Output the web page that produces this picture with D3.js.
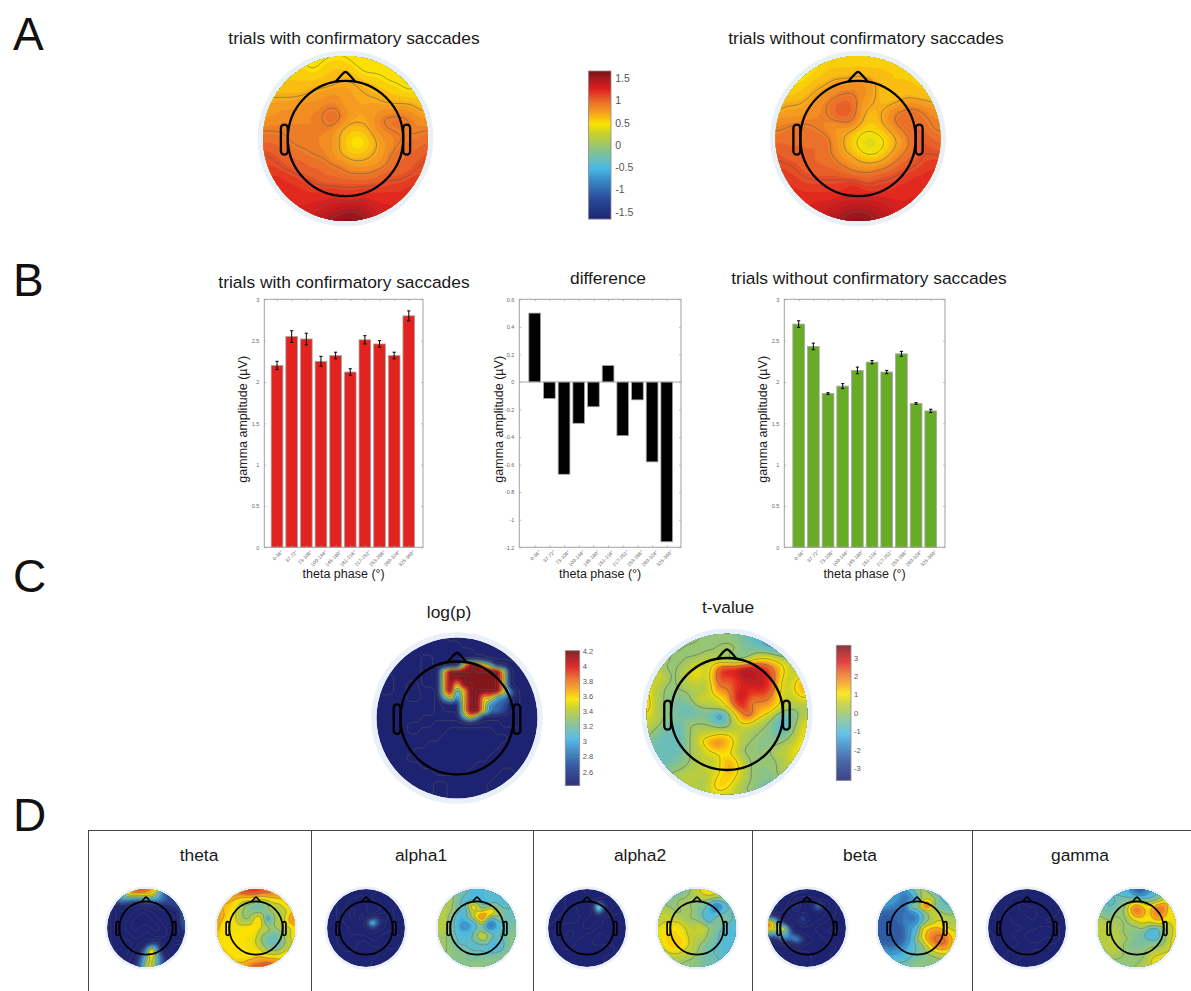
<!DOCTYPE html>
<html>
<head>
<meta charset="utf-8">
<script src="https://cdn.jsdelivr.net/npm/d3@7"></script>
<style>
  body { margin: 0; background: #fff; }
  text { font-family: "Liberation Sans", Arial, sans-serif; }
</style>
</head>
<body>
<svg id="fig" width="1191" height="991"></svg>
<script>
// bar chart values
const phases = ["0-36°", "37-72°", "73-108°", "109-144°", "145-180°", "181-216°", "217-252°", "253-288°", "289-324°", "325-360°"];
const withVals = [2.2, 2.55, 2.52, 2.25, 2.32, 2.12, 2.51, 2.46, 2.32, 2.8];
const withErr = [0.05, 0.07, 0.07, 0.06, 0.04, 0.04, 0.05, 0.04, 0.04, 0.06];
const diffVals = [0.5, -0.12, -0.67, -0.3, -0.18, 0.12, -0.39, -0.13, -0.58, -1.16];
const withoutVals = [2.7, 2.43, 1.86, 1.95, 2.14, 2.24, 2.12, 2.34, 1.74, 1.65];
const withoutErr = [0.04, 0.04, 0.01, 0.03, 0.04, 0.02, 0.02, 0.03, 0.01, 0.02];
const ampTicks = [0, 0.5, 1, 1.5, 2, 2.5, 3];
const diffTicks = [-1.2, -1, -0.8, -0.6, -0.4, -0.2, 0, 0.2, 0.4, 0.6];

// colorbars
const rangeA = [-1.66, 1.66];
const rangeP = [2.42, 4.2];
const rangeT = [-3.65, 3.67];
const ticksA = [-1.5, -1, -0.5, 0, 0.5, 1, 1.5];
const ticksP = [2.6, 2.8, 3, 3.2, 3.4, 3.6, 3.8, 4, 4.2];
const ticksT = [-3, -2, -1, 0, 1, 2, 3];
const cmapPos = [0, 0.136, 0.27, 0.345, 0.45, 0.5, 0.58, 0.645, 0.72, 0.8, 0.88, 0.95, 1];
const cmapCol = ["#1d2371", "#2b4a9a", "#3a8cc8", "#4ab8e6", "#7fc09a", "#9cc66a", "#c8d02a", "#fbe400", "#f6a21e", "#e9692a", "#e0201f", "#a81a20", "#7a1518"];

// topographies, one letter per sample:
// a..z runs along the colorbar, digits 0..9 are below its lower end (navy, contours only)
const gridWith = ["qqqqqqqqqqqqqqqqqqqqq", "rqrqrqqqrrrqqqqqqqqqq", "rrrrrrqrrrrrqqqqqqqqq", "rrrrrrrrrsssrrrqqqqqq", "rrrrrrsssssssrrrrqqqq", "ssssssssttsssssrrrrrr", "ssssstttttsssssssssrr", "ssttttttuutssstttttss", "ttttttttuusssstuuuttt", "tttttttttsrrrstttuttt", "uuuttttttsrqqrsttttuu", "uuuutttttsrqqrsstuuuu", "vvuuuutttsrrrsstuuuuv", "vvvuuuuutttsssstuuuvv", "vvvvvuuuuuttttuuuuvvv", "wwwvvvvuuuuuuuuvvvvvv", "wwwwwvvvvvvvvvvvvvwww", "wwwwwwwwwwvvwwwwwwwww", "xxwwwwwwwxxxxwwwwwwww", "xxxwwwwxxxyyyxwwwwwww", "xxxxwwxyyzzzyyxxwwwww"];
const gridWithout = ["qqqqqqrqrqrqrqrqqqqqq", "qqqqqqrrrrrrrrrrrqqqq", "qqqqqrrrrrrrrrrrrrqqq", "qqqqrrrssstssrrrrrrrq", "qqrrrsstttttsrrrrrrrr", "rrrrsstttutssrrrsrrrr", "rssssttuvvtssrsstttss", "sssstttuvutrrstuuuttt", "tttttttttutrrstuuuutt", "ttuuuttsssrqrrstuuutt", "uuuuuuutsrqppqrstuvuu", "uuuuuuutsrqppqrstuvuu", "vuuuuuutssrqqrstuuvvv", "vvvuuuuuttsssstuuvvvv", "vvvvuuuuuttttuuvvvvww", "wvvvvvvvvvvuvvvvvwwww", "wwwvvvvvvwwvvvvwwwwww", "wwwwwwwwwwwwwwwwwwwww", "wwwwwwwwxxxxxxwwwwwww", "wwwwwwxxxyyyxxxwwwwww", "wwwwwxxyyzzzyyxxwwwww"];
const gridLogP = ["5555555555533333333333333", "5555555555555333333333333", "5555555555555553333333333", "5555555885555555533333333", "5555555885555qzzqk8855533", "5555555888qzzzzzzzzq85555", "5335555888rzzzzzzzzr85555", "5335533888rzrzzzzzzq85555", "5335533558rziqzzzzzqh8555", "5555533558irgqzzrrigd8555", "5555555558aaaqzzqhfea8555", "5555555558aaaqzzqgfda8555", "5555555888888iqi888888555", "5555588885555555555888555", "5555588555533333335555555", "5555555555333333333355555", "5555555533333333333555555", "5555553333333333335555555", "5555533333333333355555555", "5555555333333335555555555", "5555555553333355555335555", "5555555555555555553335555", "5555555553355555533335555", "5555555553355555533333555", "5555555553355555533333355"];
const gridTval = ["nnnnnnnnnmmmmmlkjiiijjkkk", "nnnnnnnnmmmmmmllkjiiijjkk", "nnnnnnmmmmmnnnmllkjiijjkl", "nnnnmmmmmnnnnmmlmnnmlkkll", "oonnmmnnooonmllnqrrqponmm", "oonmmnnpporvwwxyxwvtrpoon", "oopnmnoqqoswwwxyxxwurpopq", "popnmnopoosvuvwxxxwuqoprs", "qpnmmnnoonrutvwwwxwuqoqss", "ronmmmmnnpqssvxwvvvtpoprr", "sonmllmnqooprvxvtutsqoopp", "sonmlkklmnopqtwvsssrponnn", "qonmllkklljhkpsvurqolklno", "ponmllmmmmkilorsqonljklop", "onmlkkmnnnnmmnoonnmljkmpq", "nmlkkkmnoopqqponnmmlklnpq", "mlkkkkmnqsttsqonmmlmmnoqq", "nlkkkkmnoqssrqnmmmmnnopqq", "mlkkklmnoppqqpnmmmmnooqqq", "mlkkllmnoooqsrpnmmmmnopqq", "mmllmmnnoooqsspnmmmmnopqq", "mmmmnnoooopqrrpnmmmmnooqq", "nnnnnooonnqrrqonmmllmnooo", "nnnnnnoonoqrqpnmmlllmnnoo", "nnnnnnnnooppponnmlllmnnnn"];

const thetaP = ["aaaatwwvtqjeaaa", "aaaqrrrqqlfdaaa", "aajhgggiiigecaa", "24aaa6688aabdea", "2468664466688ce", "2468642246866bf", "2486422224688bg", "2486424622468ae", "2466644664468aa", "2446666866668aa", "2444468aeg86644", "224468ahyh86442", "224468dkskd8642", "22468afnqke8644", "44468agoqkd8644"];
const thetaT = ["ttuuvvwwvvuttss", "sstttuuutttsssr", "rrsrqppoopqrrss", "srrqpmlkklonqrs", "trrqnmmllnnonqs", "tsqqnmmqqhmnost", "tqqqonnsqjmoost", "sqqqqrrqpomnooq", "rqqqqqqqnmllnos", "rqqqqqqpmkkkmor", "rqqqqqqpnlkkmoq", "srqqqqqqpmmmoqr", "ssrqqqqrrqqqrss", "tssrrrsstttsrss", "ttttssuvvwvuttt"];
const alpha1P = ["222244444466688", "224444666688866", "224466644866866", "224468864488646", "224688664468444", "224688466ca8644", "2246684arg86644", "22446686ca88644", "224466668664444", "224444446644224", "224444224442244", "222444222244444", "222222222444444", "224442224444444", "224444224444444"];
const alpha1T = ["nnnmmlkjjkkjjkk", "ooomlkijikjjjkk", "ooomkjjjjjjjjkl", "oonmkjtqjkmkjkl", "oonmkioootsmlkl", "oomkiknsxpkokkl", "oomkihikqfgkkll", "oomkhhikkfhjkll", "nnmkjjjnpnkklmm", "nnmljjkmpmjkkmm", "nnmlkkjjjkijkmm", "nnmmllkkkjjjlmm", "nnmmmmlllllmmnn", "nnmmmllmmmmmmnn", "nnmmmnnmmmmmmnn"];
const alpha2P = ["333335577777555", "333355557778866", "333355555788a86", "33335577asd8865", "333355775nc8665", "333555579755555", "335555799755555", "355777797555555", "557797755335555", "557795553333555", "555775553333355", "335555555555335", "333555555533355", "335535555533355", "335535555533355"];
const alpha2T = ["nnnmllnoqqqqonn", "nnmllmnopqqonml", "nmlmnnnmnmklmlk", "onmmnnmmlkgfjlk", "ooommnnlkjhikkk", "oooonnmmkiklmkk", "oppppnnnmjlmlkk", "pqqqqpooqnmljjj", "qqrrqpooomlkjjj", "pqrrrqoonmlkjjj", "oqrrrqonmlkkjjk", "ooqqqoonllkkjkk", "nnoooonmlkkkjkk", "nnnnnmmmlllkkkk", "nnnmmmmmllkkkkk"];
const betaP = ["222244446664444", "224446686668444", "224468a8a686844", "22446g88amb8644", "2246aa8a8a86644", "ffa466ea8a86644", "wqga24eaa664444", "unrte4666446644", "lmjkfc866646644", "a8eigkfa8664444", "24666aa68666644", "224444666866644", "222444446866444", "222444446866444", "222244446866444"];
const betaT = ["kkjiiikmnmkjiij", "kjiihfikonlkiik", "jiiigfgjnqolkkl", "hihgffpkuylkkkl", "gfffgfhjknpnlln", "feeffgfgkmooonn", "feeefhghknoqonn", "eeeeegijqrsrqoo", "eeeeegikqstutrp", "feeeeginqtuuusq", "fffffhjkmqtuusp", "iighiikkmnqrrqn", "kjiiijkklmmnonm", "lllkkklmmmmmmmm", "mmmlllmmmmmmmmm"];
const gammaP = ["333555555777555", "335555577775775", "335557777777557", "335577977775755", "335577799779755", "333557779775555", "355557777755555", "355553557799755", "335557799aa9755", "335355779977755", "335555577775555", "335557775555555", "335577555553555", "355775555335555", "355555555335555"];
const gammaT = ["mmlkjjhefgjklmn", "nmlkkjiggijlmon", "mljkllmnmllnqqo", "nlkkmmstrpsutqp", "nlkmmntutqtutpq", "nmlnmmqsrqstrqq", "oonnnmnoqpqrppq", "ooonnmmmnljkmoq", "oooonmmlliikmoq", "oooonnmllkjkmpq", "nooonmlllmmmnpq", "mnoonmmmmnnoopq", "knnnnmmmmnppqqq", "kmnmmmmmnoqqqqp", "klmmmmmnnoqqqpo"];

const bandNames = ["theta", "alpha1", "alpha2", "beta", "gamma"];
const bandP = [thetaP, alpha1P, alpha2P, betaP, gammaP];
const bandT = [thetaT, alpha1T, alpha2T, betaT, gammaT];

const svg = d3.select("#fig");
const cmap = d3.scaleLinear().domain(cmapPos).range(cmapCol).clamp(true);
const codes = "0123456789abcdefghijklmnopqrstuvwxyz";

// decode the letter rows to colorbar units
function decode(rows, range) {
  return rows.map(r => Array.from(r).map(c => range[0] + (codes.indexOf(c) - 10) / 25 * (range[1] - range[0])));
}

// bilinear upsample, the blur below takes care of the smoothness
function upsample(g, k) {
  const n = g.length;
  const m = (n - 1) * k + 1;
  const out = new Float64Array(m * m);
  for (let y = 0; y < m; y++) {
    const j = Math.min(n - 2, Math.floor(y / k)), v = y / k - j;
    for (let x = 0; x < m; x++) {
      const i = Math.min(n - 2, Math.floor(x / k)), u = x / k - i;
      out[y * m + x] = (1 - v) * ((1 - u) * g[j][i] + u * g[j][i + 1]) + v * ((1 - u) * g[j + 1][i] + u * g[j + 1][i + 1]);
    }
  }
  return { values: out, size: m };
}

// box blur, once per radius
function smooth(up, radii) {
  const m = up.size;
  let src = up.values;
  radii.forEach(r => {
    [0, 1].forEach(axis => {
      const dst = new Float64Array(m * m);
      for (let a = 0; a < m; a++) {
        for (let b = 0; b < m; b++) {
          let sum = 0;
          for (let o = -r; o <= r; o++) {
            const c = Math.max(0, Math.min(m - 1, b + o));
            sum += axis ? src[c * m + a] : src[a * m + c];
          }
          if (axis) dst[b * m + a] = sum / (2 * r + 1);
          else dst[a * m + b] = sum / (2 * r + 1);
        }
      }
      src = dst;
    });
  });
  return { values: src, size: m };
}

let clipCount = 0;
function topo(rows, range, cx, cy, disk, head, lineStart, lineStep, radii) {
  const id = "clip" + (clipCount++);
  const g = svg.append("g");
  g.append("clipPath").attr("id", id).append("circle").attr("cx", cx).attr("cy", cy).attr("r", disk);
  g.append("circle").attr("cx", cx).attr("cy", cy).attr("r", disk * 1.066).attr("fill", "#eaf0f8");

  const up = smooth(upsample(decode(rows, range), 4), radii);
  const sx = d3.scaleLinear().domain([0.5, up.size - 0.5]).range([cx - disk, cx + disk]);
  const sy = d3.scaleLinear().domain([0.5, up.size - 0.5]).range([cy - disk, cy + disk]);
  const path = d3.geoPath(d3.geoTransform({
    point(x, y) { this.stream.point(sx(x), sy(y)); }
  }));
  const toT = d3.scaleLinear().domain(range).range([0, 1]);

  const inner = g.append("g").attr("clip-path", `url(#${id})`);
  inner.append("circle").attr("cx", cx).attr("cy", cy).attr("r", disk).attr("fill", cmap(0));

  const bands = d3.range(0, 50).map(i => range[0] + i / 50 * (range[1] - range[0]));
  const fills = d3.contours().size([up.size, up.size]).thresholds(bands)(up.values);
  inner.selectAll("path.band").data(fills).enter().append("path")
    .attr("class", "band")
    .attr("d", path)
    .attr("fill", d => cmap(toT(d.value) + 0.01));

  const levels = d3.range(lineStart, range[1], lineStep);
  const lines = d3.contours().size([up.size, up.size]).thresholds(levels)(up.values);
  inner.selectAll("path.iso").data(lines).enter().append("path")
    .attr("class", "iso")
    .attr("d", path)
    .attr("fill", "none")
    .attr("stroke", "#55575a")
    .attr("stroke-opacity", 0.75)
    .attr("stroke-width", disk > 60 ? 0.7 : 0.5);

  // head outline
  const lw = head > 40 ? 2.3 : 1.7;
  const h = g.append("g").attr("fill", "none").attr("stroke", "#000").attr("stroke-width", lw)
    .attr("stroke-linejoin", "round");
  h.append("circle").attr("cx", cx).attr("cy", cy).attr("r", head);
  const nose = d3.line().x(d => cx + d[0] * head).y(d => cy + d[1] * head).curve(d3.curveCatmullRom.alpha(0.5));
  h.append("path").attr("d", nose([[-0.17, -0.985], [-0.04, -1.13], [0, -1.155], [0.04, -1.13], [0.17, -0.985]]));
  [-1, 1].forEach(side => {
    const ex = side < 0 ? cx - head * 1.12 : cx + head * 1.0;
    h.append("rect").attr("x", ex).attr("y", cy - head * 0.24)
      .attr("width", head * 0.12).attr("height", head * 0.52)
      .attr("rx", head * 0.06);
  });
}

function colorbar(x, y, w, hgt, range, ticks, fontSize) {
  const scale = d3.scaleLinear().domain(range).range([y + hgt, y]);
  const g = svg.append("g");
  g.selectAll("rect").data(d3.range(0, hgt)).enter().append("rect")
    .attr("x", x).attr("y", d => y + d).attr("width", w).attr("height", 1.2)
    .attr("fill", d => cmap(1 - d / hgt));
  g.append("rect").attr("x", x).attr("y", y).attr("width", w).attr("height", hgt)
    .attr("fill", "none").attr("stroke", "#8c8c8c").attr("stroke-width", 0.8);
  const ax = g.append("g").attr("transform", `translate(${x + w},0)`)
    .call(d3.axisRight(scale).tickValues(ticks).tickFormat(d => String(d)).tickSize(0).tickPadding(fontSize * 0.4));
  ax.select(".domain").remove();
  ax.selectAll("text").attr("fill", "#555").style("font-size", fontSize + "px")
    .style("font-family", '"Liberation Sans", Arial, sans-serif');
}

function barChart(x0, x1, xDomain, vals, errs, color, domain, ticks, yLabelX) {
  const y0 = 547.3, y1 = 299.3;
  const x = d3.scaleLinear().domain(xDomain).range([x0, x1]);
  const y = d3.scaleLinear().domain(domain).range([y0, y1]);
  const g = svg.append("g");
  const base = y(Math.max(0, domain[0]));
  const bw = (x(2) - x(1)) * 0.8;

  g.selectAll("rect.bar").data(vals).enter().append("rect")
    .attr("class", "bar")
    .attr("x", (d, i) => x(i + 1) - bw / 2)
    .attr("width", bw)
    .attr("y", d => Math.min(y(d), base))
    .attr("height", d => Math.abs(y(d) - base))
    .attr("fill", color)
    .attr("stroke", "#a8a8a8")
    .attr("stroke-width", 0.8);

  if (errs) {
    const e = g.selectAll("g.err").data(vals).enter().append("g").attr("class", "err")
      .attr("stroke", "#000").attr("stroke-width", 1);
    e.append("line").attr("x1", (d, i) => x(i + 1)).attr("x2", (d, i) => x(i + 1))
      .attr("y1", (d, i) => y(d - errs[i])).attr("y2", (d, i) => y(d + errs[i]));
    e.append("line").attr("x1", (d, i) => x(i + 1) - 1.6).attr("x2", (d, i) => x(i + 1) + 1.6)
      .attr("y1", (d, i) => y(d + errs[i])).attr("y2", (d, i) => y(d + errs[i]));
    e.append("line").attr("x1", (d, i) => x(i + 1) - 1.6).attr("x2", (d, i) => x(i + 1) + 1.6)
      .attr("y1", (d, i) => y(d - errs[i])).attr("y2", (d, i) => y(d - errs[i]));
  }

  if (domain[0] < 0) {
    g.append("line").attr("x1", x0).attr("x2", x1).attr("y1", y(0)).attr("y2", y(0))
      .attr("stroke", "#999").attr("stroke-width", 0.8);
  }

  // box with inward ticks on all four sides
  g.append("rect").attr("x", x0).attr("y", y1).attr("width", x1 - x0).attr("height", y0 - y1)
    .attr("fill", "none").attr("stroke", "#a0a0a0").attr("stroke-width", 1);

  const style = s => {
    s.select(".domain").remove();
    s.selectAll("line").attr("stroke", "#a0a0a0").attr("stroke-width", 0.7);
  };
  const xIdx = d3.range(1, 11);
  g.append("g").attr("transform", `translate(${x0},0)`)
    .call(d3.axisLeft(y).tickValues(ticks).tickFormat(d => String(d)).tickSizeInner(-2).tickSizeOuter(0).tickPadding(5))
    .call(style)
    .selectAll("text").attr("fill", "#666").style("font-size", "5.5px");
  g.append("g").attr("transform", `translate(${x1},0)`)
    .call(d3.axisRight(y).tickValues(ticks).tickFormat("").tickSizeInner(-2).tickSizeOuter(0))
    .call(style);
  g.append("g").attr("transform", `translate(0,${y1})`)
    .call(d3.axisTop(x).tickValues(xIdx).tickFormat("").tickSizeInner(-2).tickSizeOuter(0))
    .call(style);
  g.append("g").attr("transform", `translate(0,${y0})`)
    .call(d3.axisBottom(x).tickValues(xIdx).tickFormat(i => phases[i - 1]).tickSizeInner(-2).tickSizeOuter(0).tickPadding(3))
    .call(style)
    .selectAll("text")
    .attr("fill", "#666")
    .style("font-size", "5px")
    .style("text-anchor", "end")
    .attr("transform", "rotate(-45)")
    .attr("dx", "0.1em").attr("dy", "0.9em");

  label((x0 + x1) / 2, 578, "theta phase (°)", 12.5);
  svg.append("text").attr("transform", `translate(${yLabelX},${(y0 + y1) / 2 - 4}) rotate(-90)`)
    .attr("text-anchor", "middle").attr("font-size", 12.5).attr("fill", "#222")
    .text("gamma amplitude (µV)");
}

function label(x, y, txt, size) {
  svg.append("text").attr("x", x).attr("y", y).attr("text-anchor", "middle")
    .attr("font-size", size).attr("fill", "#1a1a1a").text(txt);
}

svg.append("rect").attr("width", 1191).attr("height", 991).attr("fill", "#fff");

// panel letters
[["A", 50], ["B", 296], ["C", 592], ["D", 831]].forEach(d => {
  svg.append("text").attr("x", 13).attr("y", d[1]).attr("font-size", 46).attr("fill", "#111").text(d[0]);
});

// A
label(354, 44, "trials with confirmatory saccades", 17.4);
label(866, 44, "trials without confirmatory saccades", 17.4);
topo(gridWith, rangeA, 345.5, 138.5, 82.5, 57.7, 0.5, 0.2, [3, 2]);
topo(gridWithout, rangeA, 858, 138.5, 82.5, 57.7, 0.5, 0.2, [3, 2]);
colorbar(588.5, 71, 22.5, 148, rangeA, ticksA, 10.5);

// B
label(344, 288, "trials with confirmatory saccades", 17.4);
label(608, 284, "difference", 17.4);
label(869, 284, "trials without confirmatory saccades", 17.4);
barChart(264.3, 423, [0.13, 10.97], withVals, withErr, "#e3231f", [0, 3], ampTicks, 247);
barChart(519.3, 681, [-0.05, 10.97], diffVals, null, "#000", [-1.2, 0.6], diffTicks, 503);
barChart(784.3, 945, [0.02, 10.97], withoutVals, withoutErr, "#66ac26", [0, 3], ampTicks, 767);

// C
label(449, 618, "log(p)", 17.4);
label(728, 613, "t-value", 17.4);
topo(gridLogP, rangeP, 457, 718, 80.5, 56.5, 1.8, 0.2, [1]);
topo(gridTval, rangeT, 727, 714, 80.3, 56, -3, 1, [2, 2]);
colorbar(565.3, 650.7, 14.4, 134.6, rangeP, ticksP, 7.5);
colorbar(836.3, 645.3, 14.7, 135, rangeT, ticksT, 7.5);

// D
const dividers = [88, 311, 533, 752, 972];
svg.append("line").attr("x1", 88).attr("x2", 1191).attr("y1", 830.5).attr("y2", 830.5)
  .attr("stroke", "#444").attr("stroke-width", 1);
svg.selectAll("line.div").data(dividers).enter().append("line").attr("class", "div")
  .attr("x1", d => d + 0.5).attr("x2", d => d + 0.5).attr("y1", 830).attr("y2", 991)
  .attr("stroke", "#444").attr("stroke-width", 1);

const bandX = [[146, 256], [366, 477], [587, 697], [807, 917], [1027, 1137]];
const bandTitleX = [199, 421, 640, 860, 1080];
bandNames.forEach((name, i) => {
  label(bandTitleX[i], 861, name, 17.4);
  topo(bandP[i], rangeP, bandX[i][0], 928, 39, 26.7, 1.8, 0.15, [2, 1]);
  topo(bandT[i], rangeT, bandX[i][1], 928, 39, 26.7, -3.5, 0.7, [2, 1]);
});
</script>
</body>
</html>
